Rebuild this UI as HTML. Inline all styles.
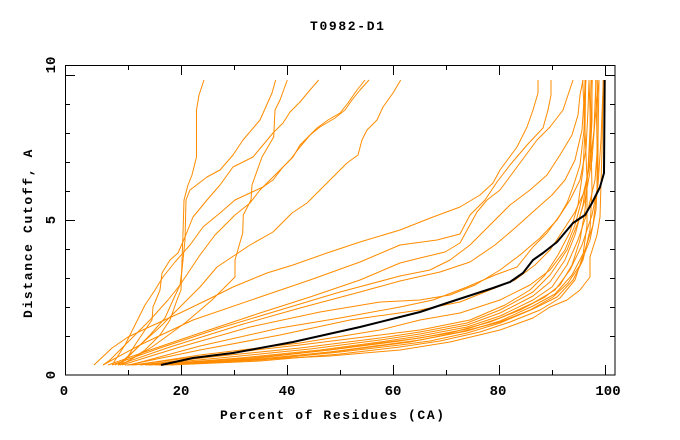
<!DOCTYPE html>
<html>
<head>
<meta charset="utf-8">
<style>
html,body{margin:0;padding:0;background:#fff;}
svg{display:block;}
text{font-family:"Liberation Mono","DejaVu Sans Mono",monospace;font-weight:bold;fill:#000;}
.o{fill:none;stroke:#ff8c00;stroke-width:1;stroke-linejoin:round;}
</style>
</head>
<body>
<svg width="680" height="440" viewBox="0 0 680 440" xmlns="http://www.w3.org/2000/svg">
<rect x="0" y="0" width="680" height="440" fill="#fff"/>

<!-- Title -->
<text x="310" y="30" font-size="13" letter-spacing="1.65">T0982-D1</text>

<!-- orange curves: steep left group -->
<polyline class="o" points="204,80 199,95 196.5,110 196.5,157 192,175 188,185 184,200 183,233 181,290 177,300 170,320 160,335 145,350 130,360 120,365"/>
<polyline class="o" points="275.7,80 272,93 260,120 243,140 233,155 220,170 207,177 190,190 186,200 185,240 182,270 180,285 173,300 165,318 150,335 135,350 118,365"/>
<polyline class="o" points="287.3,80 280,100 275,110 273.7,137 262,157 252,185 251,200 243.3,215 242.7,233 235,260 235,277 225,287 212,300 185,323 152,347 125,363 118,365"/>
<polyline class="o" points="318.7,80 310,90 300,102 290,112 283,123 273,133 253,157 233,167 220,185 207,200 193,217 185,237 178,253 170,260 162,273 160,290 153,307 152,320 145,330 135,345 127,358 120,365"/>
<polyline class="o" points="365,80 357,90 348,103 340,113 328,120 317,128 308,137 300,145 293,157 283,167 273,180 263,187 250,193 235,200 220,213 203,227 190,245 175,262 163,277 155,290 145,305 135,325 125,345 112,365"/>
<polyline class="o" points="369,80 360,90 352,100 345,110 335,118 320,127 310,135 300,147 290,160 275,175 260,190 250,203 235,215 215,235 200,255 190,270 180,285 168,300 150,320 130,340 110,360 103,365"/>
<polyline class="o" points="400.7,80 393,93 383,107 377,120 367,130 362,140 358,155 347,163 333,177 317,193 307,203 292,213 273,232 250,245 235,255 217,267 200,287 180,307 160,327 140,345 125,360 115,365"/>

<!-- fan curves -->
<polyline class="o" points="94,365 112,348 128,337 147,328 180,313 207,300 233,287 267,273 293,265 327,253 360,242 400,230 433,217 460,207 480,195 493,183 500,170 517,147 527,127 533,110 538,93 538,80"/>
<polyline class="o" points="103,365 140,345 193,320 260,297 310,280 360,262 400,245 437,240 460,234 470,215 485,200 497,182 510,165 527,145 543,128 548,110 551,95 551,80"/>
<polyline class="o" points="108,365 150,350 200,333 260,313 310,297 360,280 400,263 420,258 445,252 460,243 477,212 487,200 500,190 517,167 537,140 550,127 563,110 568,95 573,80"/>
<polyline class="o" points="112,365 160,348 220,328 280,310 340,292 400,276 430,270 450,260 470,245 490,225 510,205 530,190 547,175 560,155 572,135 578,115 580,95 583,80"/>
<polyline class="o" points="118,365 170,347 240,325 300,308 360,292 400,281 440,272 470,262 495,245 515,228 535,210 552,195 565,180 575,160 582,130 584,100 586,80"/>
<polyline class="o" points="122,365 180,347 250,327 320,312 380,302 420,300 450,295 475,285 500,270 520,255 540,238 557,220 570,200 580,180 586,150 588,110 589,80"/>
<polyline class="o" points="130,365 200,346 280,328 340,318 400,307 433,300 467,287 495,275 517,267 533,247 547,233 560,215 567,203 573,187 580,165 584,130 585,80"/>
<polyline class="o" points="128,365 200,350 280,335 350,320 420,310 460,302 490,290 515,280 535,265 550,250 562,232 575,212 585,190 590,160 592,120 592,80"/>

<!-- lower band / right bundle -->
<polyline class="o" points="135,365 200,355 300,343 380,330 420,320 460,313 500,300 530,285 550,270 565,250 575,225 583,195 590,165 594,130 596,80"/>
<polyline class="o" points="140,365 220,356 300,348 380,338 420,332 467,323 500,310 533,292 550,275 567,250 577,225 585,200 592,160 595,120 599,80"/>
<polyline class="o" points="145,365 230,357 310,349 380,340 420,334 467,325 500,313 533,296 550,282 565,260 575,235 583,205 588,170 591,130 592.3,80"/>
<polyline class="o" points="150,365 240,358 320,350 380,342 420,336 467,327 500,316 533,300 552,287 567,265 578,240 588,210 595,180 598,140 599,80"/>
<polyline class="o" points="155,365 250,359 320,351 380,343 420,338 467,329 500,318 533,303 555,290 570,270 582,245 592,215 598,185 601,140 603.3,80"/>
<polyline class="o" points="160,365 250,360 330,352 390,344 420,340 467,331 500,321 533,306 555,294 572,275 585,250 593,225 597,190 597,140 595.7,80"/>
<polyline class="o" points="165,365 260,360 340,352 400,345 430,341 467,333 500,323 533,309 557,297 573,280 583,260 590,230 592,190 591,140 589,80"/>
<polyline class="o" points="170,365 260,361 340,354 400,347 440,341 480,332 510,322 540,310 560,298 575,280 583,255 587,225 587,180 585,130 582.7,80"/>
<polyline class="o" points="125,365 250,360 330,356 400,350 450,342 500,330 533,318 550,307 567,300 580,290 590,277 590,257 597,235 600,217 602,150 603.3,80"/>
<polyline class="o" points="148,365 250,358 330,350 400,341 450,333 490,322 520,310 545,297 560,285 572,265 580,240 585,210 588,170 590,130 591,80"/>
<polyline class="o" points="132,365 220,354 300,345 380,335 420,330 470,320 505,305 530,290 545,275 558,255 570,232 578,205 583,170 585,130 585.7,80"/>
<polyline class="o" points="158,365 260,359 340,351 410,342 460,332 500,322 530,310 553,297 568,283 580,265 590,240 596,210 598,170 598,130 597.3,80"/>

<!-- black curve -->
<polyline fill="none" stroke="#000" stroke-width="2" stroke-linejoin="round" points="161,365 193,358 233,353 293,342 360,327 400,317 420,312 447,303 493,288 510,282 523,273 533,260 543,253 557,242 573,223 585,215 592,203 600,187 604,173 604.7,80"/>

<!-- frame -->
<rect x="65.5" y="65.5" width="549.5" height="309.5" fill="none" stroke="#000" stroke-width="1"/>

<!-- ticks -->
<g stroke="#000" stroke-width="1">
  <!-- bottom x ticks -->
  <line x1="128.5" y1="375" x2="128.5" y2="370"/>
  <line x1="181.5" y1="375" x2="181.5" y2="365"/>
  <line x1="234.5" y1="375" x2="234.5" y2="370"/>
  <line x1="287.5" y1="375" x2="287.5" y2="365"/>
  <line x1="340.5" y1="375" x2="340.5" y2="370"/>
  <line x1="393.5" y1="375" x2="393.5" y2="365"/>
  <line x1="446.5" y1="375" x2="446.5" y2="370"/>
  <line x1="499.5" y1="375" x2="499.5" y2="365"/>
  <line x1="552.5" y1="375" x2="552.5" y2="370"/>
  <line x1="605.5" y1="375" x2="605.5" y2="365"/>
  <!-- top x ticks -->
  <line x1="128.5" y1="65" x2="128.5" y2="70"/>
  <line x1="181.5" y1="65" x2="181.5" y2="75"/>
  <line x1="234.5" y1="65" x2="234.5" y2="70"/>
  <line x1="287.5" y1="65" x2="287.5" y2="75"/>
  <line x1="340.5" y1="65" x2="340.5" y2="70"/>
  <line x1="393.5" y1="65" x2="393.5" y2="75"/>
  <line x1="446.5" y1="65" x2="446.5" y2="70"/>
  <line x1="499.5" y1="65" x2="499.5" y2="75"/>
  <line x1="552.5" y1="65" x2="552.5" y2="70"/>
  <line x1="605.5" y1="65" x2="605.5" y2="75"/>
  <!-- left y ticks -->
  <line x1="65" y1="336.5" x2="70" y2="336.5"/>
  <line x1="65" y1="307.5" x2="70" y2="307.5"/>
  <line x1="65" y1="278.5" x2="70" y2="278.5"/>
  <line x1="65" y1="249.5" x2="70" y2="249.5"/>
  <line x1="65" y1="220.5" x2="75" y2="220.5"/>
  <line x1="65" y1="191.5" x2="70" y2="191.5"/>
  <line x1="65" y1="162.5" x2="70" y2="162.5"/>
  <line x1="65" y1="133.5" x2="70" y2="133.5"/>
  <line x1="65" y1="104.5" x2="70" y2="104.5"/>
  <line x1="65" y1="75.5" x2="75" y2="75.5"/>
  <!-- right y ticks -->
  <line x1="615" y1="336.5" x2="610" y2="336.5"/>
  <line x1="615" y1="307.5" x2="610" y2="307.5"/>
  <line x1="615" y1="278.5" x2="610" y2="278.5"/>
  <line x1="615" y1="249.5" x2="610" y2="249.5"/>
  <line x1="615" y1="220.5" x2="605" y2="220.5"/>
  <line x1="615" y1="191.5" x2="610" y2="191.5"/>
  <line x1="615" y1="162.5" x2="610" y2="162.5"/>
  <line x1="615" y1="133.5" x2="610" y2="133.5"/>
  <line x1="615" y1="104.5" x2="610" y2="104.5"/>
  <line x1="615" y1="75.5" x2="605" y2="75.5"/>
</g>

<!-- x tick labels -->
<g font-size="14" text-anchor="middle">
  <text x="64" y="395">0</text>
  <text x="181" y="395">20</text>
  <text x="287" y="395">40</text>
  <text x="393" y="395">60</text>
  <text x="498" y="395">80</text>
  <text x="608" y="395">100</text>
</g>

<!-- y tick labels (rotated) -->
<g font-size="14" text-anchor="middle">
  <text transform="translate(55,375) rotate(-90)">0</text>
  <text transform="translate(55,220) rotate(-90)">5</text>
  <text transform="translate(55,65) rotate(-90)">10</text>
</g>

<!-- axis titles -->
<text x="220" y="419" font-size="13" letter-spacing="1.6">Percent of Residues (CA)</text>
<text transform="translate(32,318) rotate(-90)" font-size="13" letter-spacing="1.65">Distance Cutoff, A</text>
</svg>
</body>
</html>
